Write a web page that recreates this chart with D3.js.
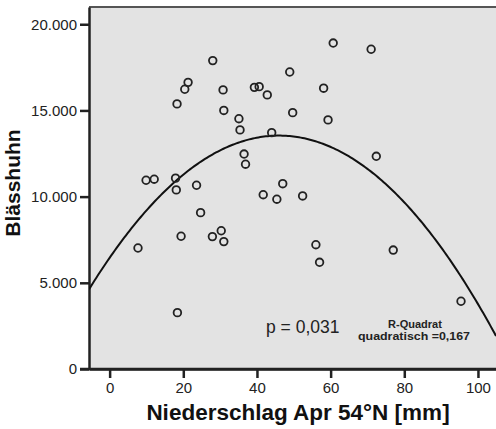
<!DOCTYPE html>
<html>
<head>
<meta charset="utf-8">
<script src="https://cdn.jsdelivr.net/npm/d3@7"></script>
<style>
  body { margin: 0; background: #fff; }
  svg { display: block; font-family: "Liberation Sans", Arial, sans-serif; }
</style>
</head>
<body>
<svg id="chart" width="496" height="429"></svg>
<script>
// Niederschlag Apr 54°N [mm] vs. Blässhuhn
const rain = [28.0, 21.3, 20.4, 18.3, 30.8, 31.0, 60.7, 48.9, 39.3, 40.6,
              42.8, 58.1, 49.7, 59.3, 35.1, 35.4, 44.0, 36.5, 36.9, 71.0,
              72.4, 9.9, 12.1, 17.9, 18.1, 23.6, 24.7, 19.4, 7.7, 27.9,
              30.3, 31.0, 18.4, 47.0, 41.7, 45.4, 52.4, 56.0, 57.0, 77.0, 95.4];
const coot = [17890, 16630, 16230, 15380, 16190, 15000, 18910, 17230, 16340, 16380,
              15900, 16290, 14870, 14450, 14520, 13870, 13710, 12470, 11880, 18550,
              12340, 10950, 11010, 11070, 10390, 10660, 9070, 7700, 7020, 7680,
              8020, 7390, 3270, 10750, 10110, 9850, 10040, 7210, 6190, 6900, 3930];
// quadratic fit: b0 + b1*x + b2*x^2
const fitCoef = [6451, 308.2, -3.35];
const xTicks = [0, 20, 40, 60, 80, 100];
const yTicks = [0, 5000, 10000, 15000, 20000];

const svg = d3.select("#chart");
const m = {left: 89, right: 496, top: 7, bottom: 369};

const x = d3.scaleLinear().domain([-5.6, 104.9]).range([m.left, m.right]);
const y = d3.scaleLinear().domain([0, 21000]).range([m.bottom, m.top]);

const de = d3.formatLocale({decimal: ",", thousands: ".", grouping: [3], currency: ["", ""]});
const fmt = de.format(",d");

// plot background
svg.append("rect")
    .attr("x", m.left).attr("y", m.top)
    .attr("width", m.right - m.left).attr("height", m.bottom - m.top)
    .attr("fill", "#e3e3e3");

svg.append("line")
    .attr("x1", m.left).attr("x2", m.right).attr("y1", m.top).attr("y2", m.top)
    .attr("stroke", "#555").attr("stroke-width", 2);

const yAxis = svg.append("g")
    .attr("transform", `translate(${m.left},0)`)
    .call(d3.axisLeft(y).tickValues(yTicks).tickFormat(fmt).tickSize(9).tickPadding(3).tickSizeOuter(0));
yAxis.select(".domain").attr("stroke", "#222").attr("stroke-width", 2.5);
yAxis.selectAll(".tick line").attr("stroke", "#222").attr("stroke-width", 2.5);
yAxis.selectAll(".tick text")
    .attr("font-size", 15).attr("fill", "#222")
    .attr("font-family", "Liberation Sans, Arial, sans-serif");

const xAxis = svg.append("g")
    .attr("transform", `translate(0,${m.bottom})`)
    .call(d3.axisBottom(x).tickValues(xTicks).tickSize(9).tickPadding(4).tickSizeOuter(0));
xAxis.select(".domain").attr("stroke", "#222").attr("stroke-width", 2.5);
xAxis.selectAll(".tick line").attr("stroke", "#222").attr("stroke-width", 2.5);
xAxis.selectAll(".tick text")
    .attr("font-size", 15).attr("fill", "#222")
    .attr("font-family", "Liberation Sans, Arial, sans-serif");
// extend bottom axis line left to the 0 tick
svg.append("line")
    .attr("x1", m.left - 9).attr("x2", m.right).attr("y1", m.bottom).attr("y2", m.bottom)
    .attr("stroke", "#222").attr("stroke-width", 2.5);

// fit curve
svg.append("clipPath").attr("id", "plotClip")
  .append("rect")
    .attr("x", m.left).attr("y", m.top)
    .attr("width", m.right - m.left).attr("height", m.bottom - m.top);

const xs = d3.range(x.domain()[0], x.domain()[1] + 0.5, 0.5);
const fit = v => fitCoef[0] + fitCoef[1] * v + fitCoef[2] * v * v;
svg.append("path")
    .datum(xs)
    .attr("clip-path", "url(#plotClip)")
    .attr("fill", "none")
    .attr("stroke", "#111")
    .attr("stroke-width", 2)
    .attr("d", d3.line().x(d => x(d)).y(d => y(fit(d))));

// points
svg.append("g")
  .selectAll("circle")
  .data(rain.map((r, i) => [r, coot[i]]))
  .join("circle")
    .attr("cx", d => x(d[0]))
    .attr("cy", d => y(d[1]))
    .attr("r", 3.8)
    .attr("fill", "none")
    .attr("stroke", "#222")
    .attr("stroke-width", 1.8);

// annotations
svg.append("text")
    .attr("x", 266).attr("y", 333)
    .attr("font-size", 17.5).attr("fill", "#222")
    .text("p = 0,031");

svg.append("text")
    .attr("x", 415).attr("y", 328)
    .attr("text-anchor", "middle")
    .attr("font-size", 11).attr("font-weight", "bold").attr("fill", "#222")
    .text("R-Quadrat");
svg.append("text")
    .attr("x", 414).attr("y", 340)
    .attr("text-anchor", "middle")
    .attr("font-size", 11).attr("font-weight", "bold").attr("fill", "#222")
    .attr("textLength", 112).attr("lengthAdjust", "spacingAndGlyphs")
    .text("quadratisch =0,167");

// axis titles
svg.append("text")
    .attr("x", 298).attr("y", 420)
    .attr("text-anchor", "middle")
    .attr("font-size", 22.5).attr("font-weight", "bold").attr("fill", "#111")
    .text("Niederschlag Apr 54°N [mm]");

svg.append("text")
    .attr("transform", "translate(20,183) rotate(-90)")
    .attr("text-anchor", "middle")
    .attr("font-size", 21).attr("font-weight", "bold").attr("fill", "#111")
    .text("Blässhuhn");
</script>
</body>
</html>
